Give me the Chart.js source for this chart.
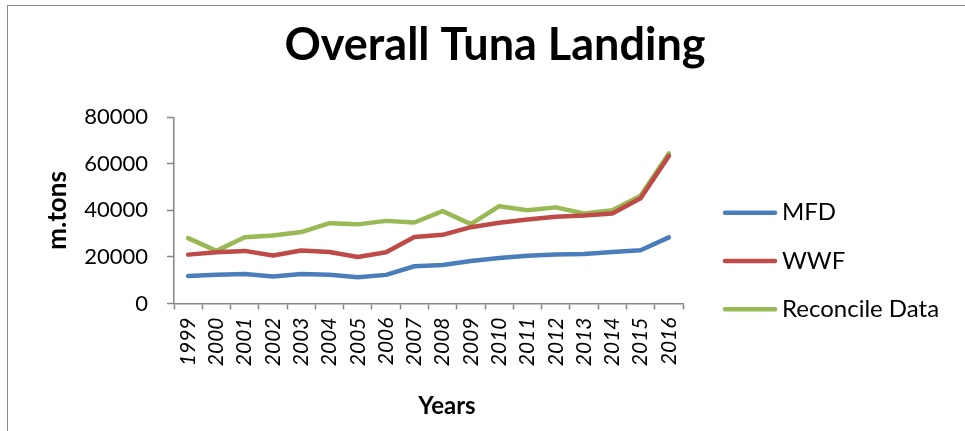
<!DOCTYPE html>
<html>
<head>
<meta charset="utf-8">
<script src="https://cdn.jsdelivr.net/npm/chart.js@4.4.1/dist/chart.umd.min.js"></script>
<style>
  html, body { margin: 0; padding: 0; background: #ffffff; }
  #wrap { position: relative; width: 965px; height: 431px; overflow: hidden; }
  #frame { position: absolute; left: 7px; top: 5px; width: 1000px; height: 500px;
           border-left: 1.5px solid #8a8a8a; border-top: 1.5px solid #8a8a8a; }
  canvas { position: absolute; left: 0; top: 0; }
</style>
</head>
<body>
<div id="wrap">
  <div id="frame"></div>
  <canvas id="chart" width="965" height="431"></canvas>
</div>
<script>
// Tuna landings (metric tons) by year, three sources
const years = ['1999','2000','2001','2002','2003','2004','2005','2006','2007',
               '2008','2009','2010','2011','2012','2013','2014','2015','2016'];
const mfd       = [11800, 12300, 12700, 11600, 12700, 12400, 11300, 12300, 16000,
                   16500, 18300, 19500, 20500, 21000, 21300, 22100, 22900, 28400];
const wwf       = [21000, 22000, 22600, 20600, 22800, 22100, 20000, 22000, 28600,
                   29500, 32800, 34700, 36100, 37300, 37800, 38700, 45200, 63400];
const reconcile = [28100, 22600, 28500, 29200, 30700, 34500, 34000, 35500, 34800,
                   39700, 34100, 41800, 40100, 41300, 38700, 40100, 46300, 64500];
const yTicks = [0, 20000, 40000, 60000, 80000];

const chartTitle = 'Overall Tuna Landing';
const xAxisTitle = 'Years';
const yAxisTitle = 'm.tons';

const FONT = 'Lato';
const AXIS_GREY = '#868686';

// Legend at the right: a short thick line followed by the series name
const sideLegend = {
  id: 'sideLegend',
  afterDraw(chart) {
    const ctx = chart.ctx;
    ctx.save();
    chart.data.datasets.forEach((ds, i) => {
      const y = 212.7 + i * 48.3;
      ctx.strokeStyle = ds.borderColor;
      ctx.lineWidth = 4.5;
      ctx.lineCap = 'round';
      ctx.beginPath();
      ctx.moveTo(725, y);
      ctx.lineTo(775, y);
      ctx.stroke();
      ctx.fillStyle = '#000000';
      ctx.font = '24px ' + FONT;
      ctx.textAlign = 'left';
      ctx.textBaseline = 'middle';
      ctx.fillText(ds.label, 782, y);
    });
    ctx.restore();
  }
};

// Category-axis title, placed under the rotated year labels
const xTitle = {
  id: 'xTitle',
  afterDraw(chart) {
    const ctx = chart.ctx;
    ctx.save();
    ctx.fillStyle = '#000000';
    ctx.font = 'bold 24px ' + FONT;
    ctx.textAlign = 'center';
    ctx.textBaseline = 'middle';
    ctx.fillText(xAxisTitle, 447, 406);
    ctx.restore();
  }
};

function build() {
  Chart.defaults.font.family = FONT;
  Chart.defaults.color = '#000000';

  const line = (label, data, color) => ({
    label, data,
    borderColor: color,
    backgroundColor: color,
    borderWidth: 4.5,
    pointRadius: 0,
    pointHoverRadius: 0,
    tension: 0,
    fill: false,
    borderCapStyle: 'round',
    borderJoinStyle: 'round'
  });

  new Chart(document.getElementById('chart'), {
    type: 'line',
    data: {
      labels: years,
      datasets: [
        line('MFD', mfd, '#4A7EBB'),
        line('WWF', wwf, '#BE4B48'),
        line('Reconcile Data', reconcile, '#98B954')
      ]
    },
    options: {
      responsive: false,
      animation: false,
      events: [],
      layout: { padding: { left: 25, right: 0, top: 0, bottom: 0 } },
      plugins: {
        legend: { display: false },
        tooltip: { enabled: false },
        title: {
          display: true,
          text: chartTitle,
          color: '#000000',
          font: { family: FONT, size: 45, weight: 'bold', lineHeight: 1.0 },
          padding: { top: 22.5, bottom: 49.8 }
        }
      },
      scales: {
        x: {
          type: 'category',
          offset: true,
          grid: {
            offset: true,
            drawOnChartArea: false,
            drawTicks: true,
            tickLength: 6,
            tickWidth: 1.5,
            tickColor: AXIS_GREY,
            color: AXIS_GREY
          },
          border: { display: true, color: AXIS_GREY, width: 1.5 },
          ticks: {
            autoSkip: false,
            minRotation: 90,
            maxRotation: 90,
            padding: 8,
            color: '#000000',
            font: { family: FONT, size: 21, style: 'italic' }
          },
          afterFit(scale) { scale.height = 127.5; }
        },
        y: {
          position: 'left',
          min: 0,
          max: 80000,
          afterBuildTicks(scale) { scale.ticks = yTicks.map(v => ({ value: v })); },
          grid: {
            drawOnChartArea: false,
            drawTicks: true,
            tickLength: 7,
            tickWidth: 1.5,
            tickColor: AXIS_GREY,
            color: AXIS_GREY
          },
          border: { display: true, color: AXIS_GREY, width: 1.5 },
          ticks: {
            padding: 19,
            color: '#000000',
            font: { family: FONT, size: 22 },
            callback: v => String(v)
          },
          title: {
            display: true,
            text: yAxisTitle,
            color: '#000000',
            font: { family: FONT, size: 26, weight: 'bold', lineHeight: 1.2 },
            padding: { top: 17.4, bottom: 0 }
          },
          afterFit(scale) { scale.width = 149; }
        },
        side: {
          position: 'right',
          display: true,
          grid: { display: false, drawTicks: false },
          border: { display: false },
          ticks: { display: false },
          afterFit(scale) { scale.width = 282; }
        }
      }
    },
    plugins: [sideLegend, xTitle]
  });
}

if (document.fonts && document.fonts.load) {
  Promise.all([
    document.fonts.load('bold 45px Lato'),
    document.fonts.load('24px Lato'),
    document.fonts.load('italic 21px Lato')
  ]).then(build, build);
} else {
  build();
}
</script>
</body>
</html>
